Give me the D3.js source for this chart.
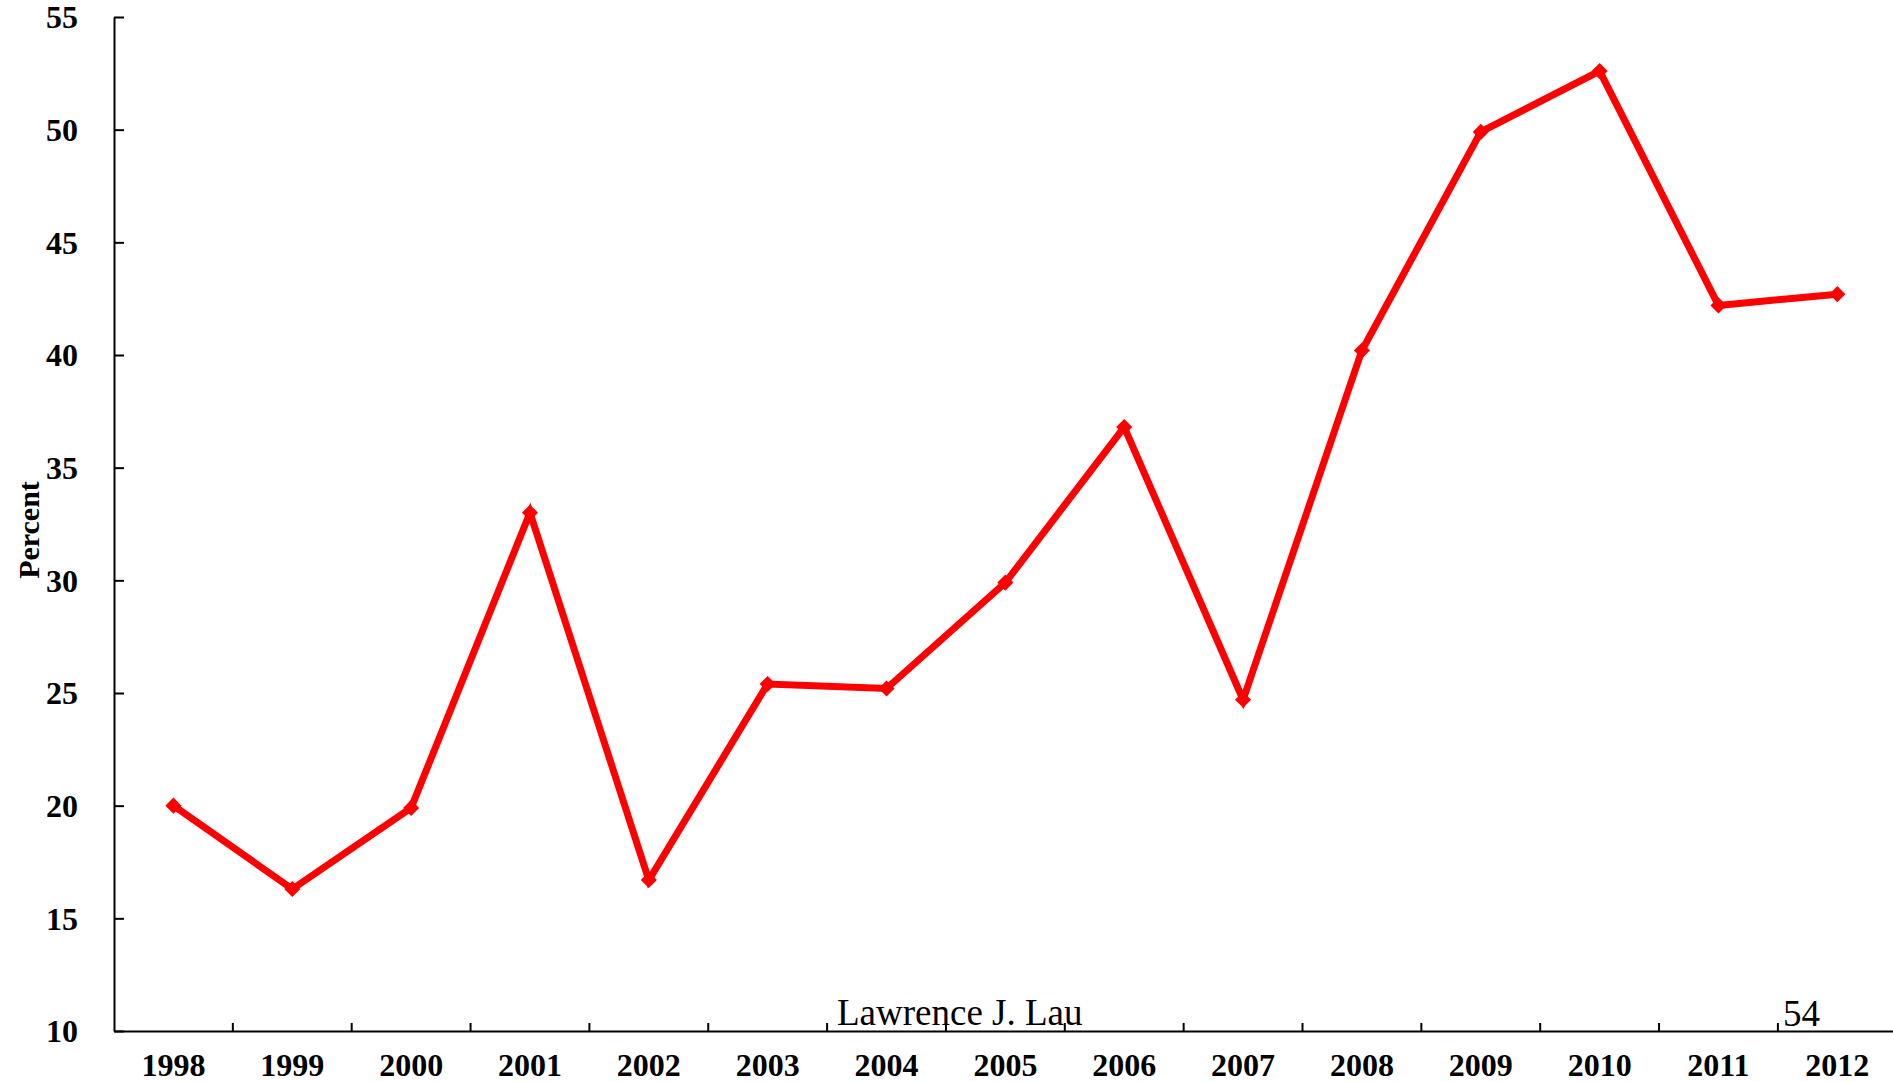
<!DOCTYPE html>
<html lang="en">
  <head>
    <meta charset="UTF-8" />
    <title>Percent</title>
    <script src="https://d3js.org/d3.v7.min.js"></script>
    <style>
      body {
        margin: 0;
        background: #fff;
      }
      svg {
        display: block;
        font-family: "Liberation Serif", "Times New Roman", serif;
      }
      .axis path,
      .axis line {
        stroke: #000;
        stroke-width: 2px;
      }
      .axis text {
        font-family: "Liberation Serif", "Times New Roman", serif;
        font-size: 32px;
        font-weight: bold;
        fill: #000;
      }
    </style>
  </head>
  <body>
    <svg id="chart"></svg>
    <script>
      // data
      const years = ["1998", "1999", "2000", "2001", "2002", "2003", "2004", "2005",
        "2006", "2007", "2008", "2009", "2010", "2011", "2012"];
      const percent = [20.0, 16.3, 19.9, 33.0, 16.7, 25.4, 25.2, 29.9,
        36.8, 24.7, 40.2, 49.9, 52.6, 42.2, 42.7];
      const yTicks = [10, 15, 20, 25, 30, 35, 40, 45, 50, 55];

      const width = 1893;
      const height = 1082;
      const marginLeft = 114;
      const plotTop = 17;
      const plotBottom = 1031;
      const band = 118.85;

      const svg = d3.select("#chart").attr("width", width).attr("height", height);

      const x = d3
        .scaleBand()
        .domain(years)
        .range([marginLeft, marginLeft + band * years.length])
        .padding(0);

      const y = d3.scaleLinear().domain([10, 55]).range([plotBottom, plotTop]);

      // y axis, ticks point inward
      const yAxis = svg
        .append("g")
        .attr("class", "axis")
        .attr("transform", `translate(${marginLeft},0)`)
        .call(d3.axisLeft(y).tickValues(yTicks).tickSizeInner(-10).tickSizeOuter(0).tickPadding(36));
      yAxis.attr("font-family", null).attr("font-size", null);
      yAxis.selectAll("text").attr("dy", "0.34em");

      // x axis line + labels
      const xAxis = svg
        .append("g")
        .attr("class", "axis")
        .attr("transform", `translate(0,${plotBottom})`)
        .call(d3.axisBottom(x).tickSize(0).tickSizeOuter(0));
      xAxis.attr("font-family", null).attr("font-size", null);
      xAxis.selectAll("text").attr("y", 45).attr("dy", 0);

      // tick marks between categories
      xAxis
        .selectAll("line.sep")
        .data(years.slice(1))
        .enter()
        .append("line")
        .attr("class", "sep")
        .attr("x1", (d) => x(d))
        .attr("x2", (d) => x(d))
        .attr("y1", 0)
        .attr("y2", -8);

      svg
        .append("text")
        .attr("transform", `translate(39,${(plotTop + plotBottom) / 2 + 6}) rotate(-90)`)
        .attr("text-anchor", "middle")
        .style("font-size", "30px")
        .style("font-weight", "bold")
        .text("Percent");

      const line = d3
        .line()
        .x((d, i) => x(years[i]) + x.bandwidth() / 2)
        .y((d) => y(d));

      svg
        .append("path")
        .datum(percent)
        .attr("fill", "none")
        .attr("stroke", "#ff0000")
        .attr("stroke-width", 7)
        .attr("stroke-linejoin", "miter")
        .attr("d", line);

      svg
        .selectAll("path.marker")
        .data(percent)
        .enter()
        .append("path")
        .attr("class", "marker")
        .attr("d", d3.symbol().type(d3.symbolSquare).size(130))
        .attr("fill", "#ff0000")
        .attr("transform", (d, i) =>
          `translate(${x(years[i]) + x.bandwidth() / 2},${y(d)}) rotate(45)`);

      svg
        .append("text")
        .attr("x", 837)
        .attr("y", 1025)
        .style("font-size", "37px")
        .text("Lawrence J. Lau");

      svg
        .append("text")
        .attr("x", 1783)
        .attr("y", 1026)
        .style("font-size", "37px")
        .text("54");
    </script>
  </body>
</html>
